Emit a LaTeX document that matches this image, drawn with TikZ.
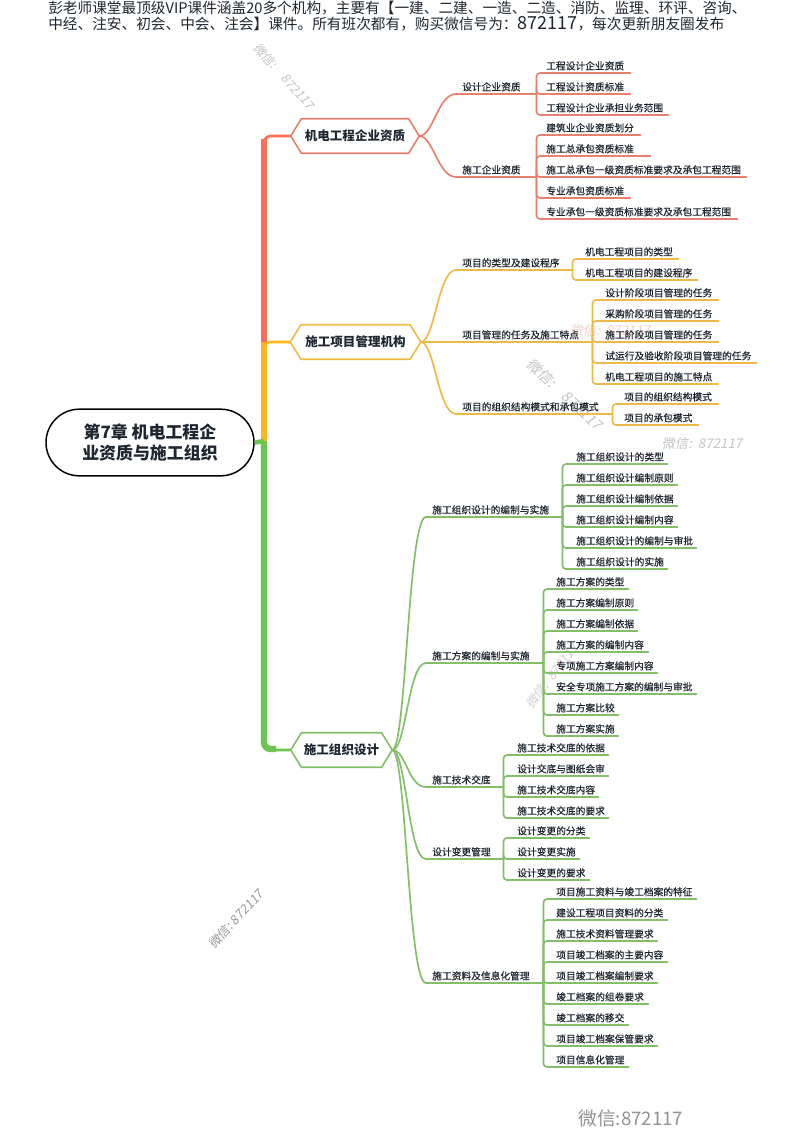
\documentclass[tikz,border=0pt]{standalone}
\usepackage{fontspec}
\setmainfont{Noto Sans CJK SC}
\newfontfamily\leaffont[FakeBold=0.5]{Noto Sans CJK SC}
\newfontfamily\markfont[FakeSlant=0.2]{Noto Sans CJK SC}
\usetikzlibrary{calc}
\definecolor{ink}{HTML}{1E2730}
\definecolor{redT}{HTML}{FB6C5A}
\definecolor{redL}{HTML}{E9806E}
\definecolor{yelT}{HTML}{FFB71B}
\definecolor{yelL}{HTML}{EDBB45}
\definecolor{grnT}{HTML}{6CC552}
\definecolor{grnL}{HTML}{82BF68}
\definecolor{wmgray}{HTML}{C4C4C4}
\definecolor{wmpink}{HTML}{F6D0CC}
\tikzset{
  x=0.75pt,y=-0.75pt,
  link/.style={line width=1.25pt,line cap=round},
  trunkline/.style={line width=4.8pt},
  thinline/.style={line width=1.9pt,rounded corners=5pt},
  leafnode/.style={font=\leaffont\fontsize{7.3pt}{9pt}\selectfont,text=ink,inner sep=0pt,align=left,text height=6.6pt,text depth=2.4pt},
  hexnode/.style={font=\bfseries\fontsize{9.4pt}{11pt}\selectfont,text=ink,inner sep=0pt,minimum height=25.5pt},
  rootnode/.style={draw=black,line width=1.1pt,rounded corners=25pt,fill=white,minimum width=156pt,minimum height=50pt,font=\bfseries\fontsize{12.7pt}{15.8pt}\selectfont,text=ink,align=center,inner sep=0pt},
  topline/.style={font=\fontsize{11pt}{13pt}\selectfont,text=ink,anchor=west,inner sep=0pt},
  wmark/.style={font=\markfont\fontsize{9.5pt}{11pt}\selectfont,text=wmgray,inner sep=0pt},
}
\newcommand{\hexa}[5]{%
  \node[hexnode,minimum width=#4*0.75pt] (#1) at (#2,#3) {#5};
  \draw[line width=1.2pt] (#1.west) -- ([xshift=8pt]#1.north west) -- ([xshift=-8pt]#1.north east) -- (#1.east) -- ([xshift=-8pt]#1.south east) -- ([xshift=8pt]#1.south west) -- cycle;
}
\newcommand{\branch}[6]{%
  \pgfmathsetmacro\tw{(#4-#3)*0.75}
  \node[leafnode,text width=\tw pt,anchor=south west] (#1) at (#3,#5) {#6};
  \draw[link] (#2.east) .. controls +(14,0) and ($(#1.south west)+(-18pt,0)$) .. ([xshift=-4.5pt]#1.south west) -- (#1.south east);
}
\newcommand{\leaf}[6]{%
  \pgfmathsetmacro\tw{(#4-#3)*0.75}
  \node[leafnode,text width=\tw pt,anchor=south west] (#1) at (#3,#5) {#6};
  \draw[link,rounded corners=2.5pt] (#2.south east) |- (#1.south east);
}
\begin{document}
\begin{tikzpicture}
\useasboundingbox (0,0) rectangle (800,1129);
\fill[white] (0,0) rectangle (800,1129);

% watermarks
\node[wmark,rotate=-48] (w1) at (284,76) {微信:\quad 872117};
\node[wmark,text=wmpink,font=\markfont\fontsize{10pt}{12pt}\selectfont] (w2) at (610,330) {微信:\ \ 872117};
\node[wmark,rotate=-43,font=\markfont\fontsize{11pt}{13pt}\selectfont] (w3) at (565,394) {微信:\quad 872117};
\node[wmark,font=\markfont\fontsize{10pt}{12pt}\selectfont] (w4) at (702,443) {微信:\ \ 872117};
\node[wmark,rotate=52,text=wmgray!80] (w5) at (552,676) {微信:\ \ 872117};
\node[wmark,rotate=47,text=gray!80] (w6) at (236,919) {微信:\ 872117};
\node[wmark,text=gray!85,font=\fontsize{14pt}{16pt}\selectfont] (w7) at (631,1118) {微信:872117};

% header text
\node[topline] (t1) at (48,8) {彭老师课堂最顶级VIP课件涵盖20多个机构，主要有【一建、二建、一造、二造、消防、监理、环评、咨询、};
\node[topline] (t2) at (48,24) {中经、注安、初会、中会、注会】课件。所有班次都有，购买微信号为：{\fontsize{13.5pt}{13pt}\selectfont 872117}，每次更新朋友圈发布};

% junctions of the trunk
\coordinate (j0) at (264,441);
\coordinate (j1) at (264,342);
\coordinate (j2) at (264,139);
\coordinate (j3) at (276,749);

% ---------- branch 1
\begin{scope}[color=redL]
\hexa{h1}{355}{136}{128}{机电工程企业资质}
\branch{a1}{h1}{462}{536}{94}{设计企业资质}
\leaf{a11}{a1}{546}{630}{73}{工程设计企业资质}
\leaf{a12}{a1}{546}{630}{94}{工程设计资质标准}
\leaf{a13}{a1}{546}{668}{115}{工程设计企业承担业务范围}
\branch{a2}{h1}{462}{536}{177}{施工企业资质}
\leaf{a21}{a2}{546}{640}{135}{建筑业企业资质划分}
\leaf{a22}{a2}{546}{650}{156}{施工总承包资质标准}
\leaf{a23}{a2}{546}{746}{177}{施工总承包一级资质标准要求及承包工程范围}
\leaf{a24}{a2}{546}{630}{198}{专业承包资质标准}
\leaf{a25}{a2}{546}{737}{219}{专业承包一级资质标准要求及承包工程范围}
\end{scope}

% ---------- branch 2
\begin{scope}[color=yelL]
\hexa{h2}{355.5}{342}{130}{施工项目管理机构}
\branch{b1}{h2}{462}{572}{270}{项目的类型及建设程序}
\leaf{b11}{b1}{585}{678}{259}{机电工程项目的类型}
\leaf{b12}{b1}{585}{697}{280}{机电工程项目的建设程序}
\branch{b2}{h2}{462}{592}{342}{项目管理的任务及施工特点}
\leaf{b21}{b2}{605}{718}{300}{设计阶段项目管理的任务}
\leaf{b22}{b2}{605}{718}{321}{采购阶段项目管理的任务}
\leaf{b23}{b2}{605}{718}{342}{施工阶段项目管理的任务}
\leaf{b24}{b2}{605}{756}{363}{试运行及验收阶段项目管理的任务}
\leaf{b25}{b2}{605}{718}{384}{机电工程项目的施工特点}
\branch{b3}{h2}{462}{612}{414}{项目的组织结构模式和承包模式}
\leaf{b31}{b3}{624}{718}{404}{项目的组织结构模式}
\leaf{b32}{b3}{624}{698}{425}{项目的承包模式}
\end{scope}

% ---------- branch 3
\begin{scope}[color=grnL]
\hexa{h3}{341.5}{750}{101}{施工组织设计}
\branch{c1}{h3}{432}{562}{517}{施工组织设计的编制与实施}
\leaf{c11}{c1}{576}{667}{464}{施工组织设计的类型}
\leaf{c12}{c1}{576}{677}{485}{施工组织设计编制原则}
\leaf{c13}{c1}{576}{677}{506}{施工组织设计编制依据}
\leaf{c14}{c1}{576}{677}{527}{施工组织设计编制内容}
\leaf{c15}{c1}{576}{696}{548}{施工组织设计的编制与审批}
\leaf{c16}{c1}{576}{667}{569}{施工组织设计的实施}
\branch{c2}{h3}{432}{543}{663}{施工方案的编制与实施}
\leaf{c21}{c2}{556}{628}{589}{施工方案的类型}
\leaf{c22}{c2}{556}{637}{610}{施工方案编制原则}
\leaf{c23}{c2}{556}{637}{631}{施工方案编制依据}
\leaf{c24}{c2}{556}{648}{652}{施工方案的编制内容}
\leaf{c25}{c2}{556}{657}{673}{专项施工方案编制内容}
\leaf{c26}{c2}{556}{696}{694}{安全专项施工方案的编制与审批}
\leaf{c27}{c2}{556}{618}{715}{施工方案比较}
\leaf{c28}{c2}{556}{618}{736}{施工方案实施}
\branch{c3}{h3}{432}{503}{787}{施工技术交底}
\leaf{c31}{c3}{517}{608}{755}{施工技术交底的依据}
\leaf{c32}{c3}{517}{608}{776}{设计交底与图纸会审}
\leaf{c33}{c3}{517}{598}{797}{施工技术交底内容}
\leaf{c34}{c3}{517}{608}{818}{施工技术交底的要求}
\branch{c4}{h3}{432}{503}{859}{设计变更管理}
\leaf{c41}{c4}{517}{589}{838}{设计变更的分类}
\leaf{c42}{c4}{517}{579}{859}{设计变更实施}
\leaf{c43}{c4}{517}{589}{880}{设计变更的要求}
\branch{c5}{h3}{432}{543}{983}{施工资料及信息化管理}
\leaf{c51}{c5}{556}{696}{899}{项目施工资料与竣工档案的特征}
\leaf{c52}{c5}{556}{667}{920}{建设工程项目资料的分类}
\leaf{c53}{c5}{556}{657}{941}{施工技术资料管理要求}
\leaf{c54}{c5}{556}{667}{962}{项目竣工档案的主要内容}
\leaf{c55}{c5}{556}{657}{983}{项目竣工档案编制要求}
\leaf{c56}{c5}{556}{648}{1004}{竣工档案的组卷要求}
\leaf{c57}{c5}{556}{628}{1025}{竣工档案的移交}
\leaf{c58}{c5}{556}{657}{1046}{项目竣工档案保管要求}
\leaf{c59}{c5}{556}{628}{1067}{项目信息化管理}
\end{scope}

% trunk, drawn over the branches
\draw[grnT,thinline] (j0) |- (h3.west);
\draw[grnT,trunkline,rounded corners=5pt] (j0) |- (j3);
\draw[yelT,trunkline] (j0) -- (j1);
\draw[redT,trunkline] (j1) -- (j2);
\draw[redT,thinline] (j1) |- (h1.west);
\draw[yelT,thinline] (j0) |- (h2.west);
\node[rootnode] (root) at (150,442.5) {第7章 机电工程企\\业资质与施工组织};
\draw[grnT,line width=3.4pt] (root.east) -- (j0);
\end{tikzpicture}
\end{document}
